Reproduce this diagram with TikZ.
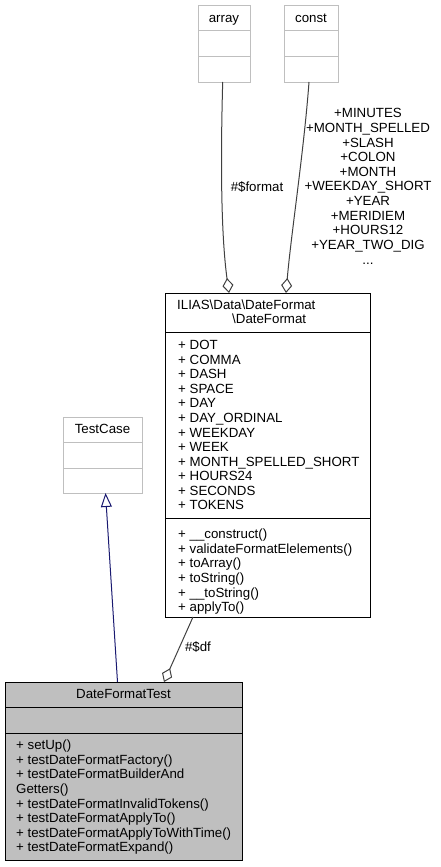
\documentclass[tikz,border=0pt]{standalone}
\usepackage{fontspec}
\setmainfont{Liberation Sans}
\usetikzlibrary{arrows.meta}
\definecolor{boxgrey}{HTML}{BFBFBF}
\definecolor{edgegrey}{HTML}{404040}
\definecolor{inhblue}{HTML}{191970}
\tikzset{
  box/.style={draw=black, line width=1pt, inner sep=0pt, anchor=north west},
  extbox/.style={box, draw=boxgrey, fill=white},
  txt/.style={inner sep=0pt, font=\fontsize{13.3}{14.6}\selectfont},
  ltxt/.style={txt, anchor=base west},
  ctxt/.style={txt, anchor=base},
  divider/.style={line width=1pt},
  aggr/.style={draw=edgegrey, line width=1pt, -{Diamond[open, length=15pt, width=11pt, line width=1pt]}},
  inh/.style={draw=inhblue, line width=1pt, -{Triangle[open, length=14pt, width=11pt, line width=1pt]}}
}
\begin{document}
\begin{tikzpicture}[x=1pt, y=-1pt]
\useasboundingbox (0,0) rectangle (440,867);

% array
\node[extbox, minimum width=52pt, minimum height=77pt] (array) at (198,5) {};
\draw[divider, boxgrey] (198,31) -- (250,31) (198,57) -- (250,57);
\node[ctxt] (arrayt) at (224,22.7) {array};

% const
\node[extbox, minimum width=54pt, minimum height=77pt] (const) at (284,5) {};
\draw[divider, boxgrey] (284,31) -- (338,31) (284,57) -- (338,57);
\node[ctxt] (constt) at (311,22.7) {const};

% TestCase
\node[extbox, minimum width=79pt, minimum height=76pt] (testcase) at (63,417) {};
\draw[divider, boxgrey] (63,442) -- (142,442) (63,468) -- (142,468);
\node[ctxt] (testcaset) at (102.5,433.5) {TestCase};

% DateFormat
\node[box, fill=white, minimum width=205pt, minimum height=324pt] (df) at (165,293) {};
\draw[divider] (165,332) -- (370,332) (165,518) -- (370,518);
\node[ltxt] (dfh1) at (177,309.5) {ILIAS\textbackslash Data\textbackslash DateFormat};
\node[ltxt] (dfh2) at (232,323) {\textbackslash DateFormat};
\foreach \t [count=\i from 0] in {+ DOT, + COMMA, + DASH, + SPACE, + DAY, + DAY\_ORDINAL, + WEEKDAY, + WEEK, + MONTH\_SPELLED\_SHORT, + HOURS24, + SECONDS, + TOKENS}
  \node[ltxt] (dfa\i) at (178,349.7+14.55*\i) {\t};
\foreach \t [count=\i from 0] in {+ \_\_construct(), + validateFormatElelements(), + toArray(), + toString(), + \_\_toString(), + applyTo()}
  \node[ltxt] (dfm\i) at (178,538.7+14.6*\i) {\t};

% DateFormatTest
\node[box, fill=boxgrey, minimum width=237pt, minimum height=178pt] (dft) at (5,682) {};
\draw[divider] (5,707) -- (242,707) (5,733) -- (242,733);
\node[ctxt] (dftt) at (123.5,698.7) {DateFormatTest};
\foreach \t [count=\i from 0] in {+ setUp(), + testDateFormatFactory(), + testDateFormatBuilderAnd, Getters(), + testDateFormatInvalidTokens(), + testDateFormatApplyTo(), + testDateFormatApplyToWithTime(), + testDateFormatExpand()}
  \node[ltxt] (dftm\i) at (16,749.7+14.6*\i) {\t};

% edges
\coordinate (arrayout) at (222.7,82);
\coordinate (dfin1) at (229,293);
\coordinate (constout) at (309,82);
\coordinate (dfin2) at (286,293);
\coordinate (dfout) at (193,617);
\coordinate (dftin) at (164,682);
\coordinate (dftout) at (117.5,682);
\coordinate (tcin) at (105.5,493);

\draw[aggr] (arrayout) .. controls (220.5,160) and (221,235) .. (dfin1);
\draw[aggr] (constout) .. controls (304,150) and (291,235) .. (dfin2);
\draw[aggr] (dfout) -- (dftin);
\draw[inh] (dftout) -- (tcin);

% edge labels
\node[ctxt] (lformat) at (257,191.7) {\#\$format};
\foreach \t [count=\i from 0] in {+MINUTES, +MONTH\_SPELLED, +SLASH, +COLON, +MONTH, +WEEKDAY\_SHORT, +YEAR, +MERIDIEM, +HOURS12, +YEAR\_TWO\_DIG}
  \node[ctxt] (lconst\i) at (368,117.7+14.65*\i) {\t};
\node[ctxt] (lconstdots) at (368,117.7+14.65*10) {...};
\node[ctxt] (ldf) at (198,651.7) {\#\$df};
\end{tikzpicture}
\end{document}
